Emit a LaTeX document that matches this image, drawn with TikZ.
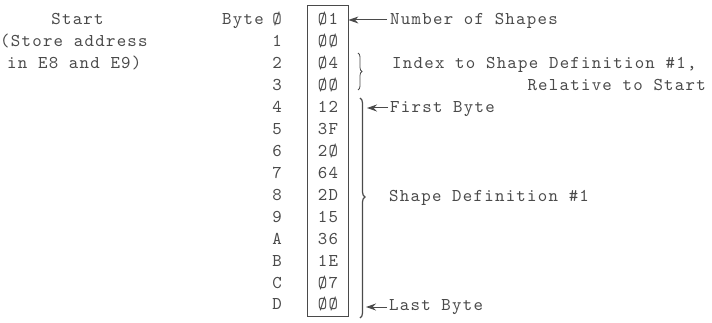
\documentclass[tikz,border=0pt]{standalone}
\usepackage{fontspec}
\usetikzlibrary{arrows.meta,decorations.pathreplacing}
% typewriter face, spaced out a little
\newfontfamily\tw{lmmono10-regular.otf}[LetterSpace=7.0]
\definecolor{ink}{HTML}{4A4A4A}
\tikzset{
  txt/.style={inner sep=0pt, text=ink, font=\tw\fontsize{18}{20}\selectfont},
  arr/.style={draw=ink, line width=1pt, -{Stealth[length=10pt,width=7pt]}},
  brc/.style={draw=ink, decorate, decoration={brace, amplitude=#1}},
}
\begin{document}
\begin{tikzpicture}[x=1pt,y=-1pt]
\useasboundingbox (0,0) rectangle (712,323);
% header on the left
\node[txt, anchor=base] (start) at (77.5,25) {Start};
\node[txt, anchor=base west] (store) at (0,47) {(Store address};
\node[txt, anchor=base west] (e8) at (7,69) {in E8 and E9)};
\node[txt, anchor=base east] (byte) at (264,25) {Byte};
% byte offsets and their contents
\foreach \l/\v [count=\i from 0] in {Ø/Ø1,1/ØØ,2/Ø4,3/ØØ,4/12,5/3F,6/2Ø,7/64,8/2D,9/15,A/36,B/1E,C/Ø7,D/ØØ}{
  \node[txt, anchor=base] (lab\i) at (277,{25+21.92*\i}) {\l};
  \node[txt, anchor=base] (val\i) at (328,{25+21.92*\i}) {\v};
}
\node[draw=ink, line width=0.8pt, minimum width=41pt, minimum height=311pt, inner sep=0pt] (box) at (327.5,160.5) {};
% annotations on the right
\node[txt, anchor=base west] (num) at (390,25) {Number of Shapes};
\node[txt, anchor=base west] (idx) at (392,69) {Index to Shape Definition \#1,};
\node[txt, anchor=base east] (rel) at (706,91) {Relative to Start};
\node[txt, anchor=base west] (first) at (390,113) {First Byte};
\node[txt, anchor=base west] (def) at (389,202) {Shape Definition \#1};
\node[txt, anchor=base west] (last) at (389,310) {Last Byte};
% arrows
\coordinate (a0) at (387,20);
\coordinate (a1) at (388,108);
\coordinate (a2) at (387,307);
\draw[arr] (a0) -- (box.east |- a0);
\draw[arr] (a1) -- (367,108);
\draw[arr] (a2) -- (366,307);
% braces
\draw[brc=4pt, line width=0.8pt] (358,53) -- (358,90);
\draw[brc=5pt, line width=1.2pt, decoration={aspect=0.45}] (360,98) -- (360,318);
\end{tikzpicture}
\end{document}
